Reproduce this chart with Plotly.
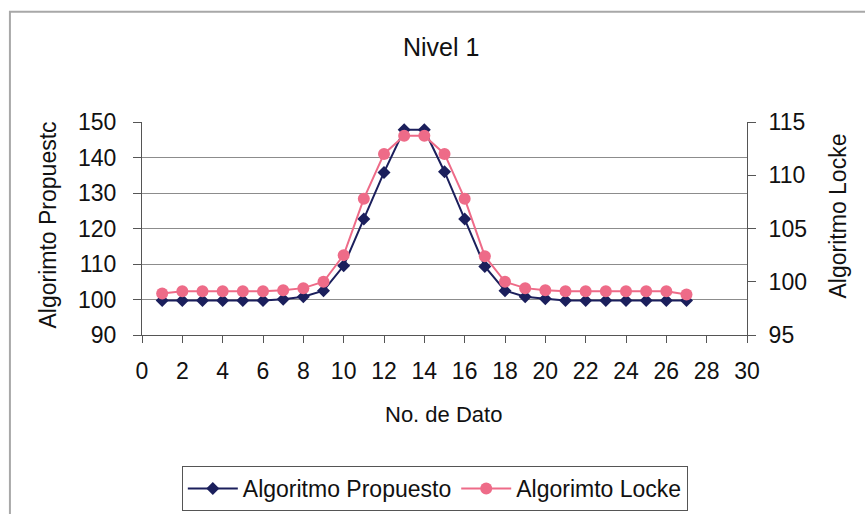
import plotly.graph_objects as go

# Data points (No. de Dato 1..27)
dato = list(range(1, 28))
propuesto = [99.7, 99.7, 99.7, 99.7, 99.7, 99.7, 100.1, 100.8, 102.5, 109.5,
             122.7, 135.8, 147.8, 147.8, 136.0, 122.7, 109.3, 102.5, 100.8, 100.2,
             99.7, 99.7, 99.7, 99.7, 99.7, 99.7, 99.7]
locke = [98.9, 99.1, 99.1, 99.1, 99.1, 99.1, 99.2, 99.4, 100.0, 102.5,
         107.8, 112.0, 113.7, 113.7, 112.0, 107.8, 102.4, 100.0, 99.4, 99.2,
         99.1, 99.1, 99.1, 99.1, 99.1, 99.1, 98.8]

x_ticks = list(range(0, 31, 2))
left_ticks = list(range(90, 151, 10))
right_ticks = list(range(95, 116, 5))

FONT = "Arial, 'Liberation Sans', sans-serif"
NAVY = "#1b1f5c"
PINK = "#ee6b88"
TICK_SIZE = 23

fig = go.Figure()
fig.add_trace(go.Scatter(
    x=dato, y=propuesto, name="Algoritmo Propuesto", mode="lines+markers",
    line=dict(color=NAVY, width=2),
    marker=dict(symbol="diamond", size=10, color=NAVY),
    yaxis="y"))
fig.add_trace(go.Scatter(
    x=dato, y=locke, name="Algorimto Locke", mode="lines+markers",
    line=dict(color=PINK, width=2),
    marker=dict(symbol="circle", size=12, color=PINK),
    yaxis="y2"))

fig.update_layout(
    width=865, height=514,
    margin=dict(l=142, r=118, t=122, b=179, autoexpand=False),
    paper_bgcolor="white", plot_bgcolor="white",
    font=dict(family=FONT, size=TICK_SIZE, color="#111111"),
    showlegend=True,
    xaxis=dict(range=[0, 30], tickvals=x_ticks, ticks="outside", ticklen=7,
               tickcolor="#555555", showline=True, linecolor="#555555",
               showgrid=False, zeroline=False, ticklabelstandoff=8,
               automargin=False, tickfont=dict(size=TICK_SIZE)),
    yaxis=dict(range=[90, 150], tickvals=left_ticks, ticks="outside", ticklen=8,
               tickcolor="#555555", showline=True, linecolor="#555555",
               showgrid=True, gridcolor="#8c8c8c", gridwidth=1, zeroline=False,
               ticklabelstandoff=12, automargin=False, tickfont=dict(size=TICK_SIZE)),
    yaxis2=dict(range=[95, 115], tickvals=right_ticks, overlaying="y", side="right",
                ticks="outside", ticklen=8, tickcolor="#555555", showline=True,
                linecolor="#555555", showgrid=False, zeroline=False,
                ticklabelstandoff=8, automargin=False, tickfont=dict(size=TICK_SIZE)),
    legend=dict(orientation="h", x=0.484, xanchor="center", y=-0.615, yanchor="top",
                bordercolor="#555555", borderwidth=1, font=dict(size=23),
                itemwidth=50, bgcolor="white"),
    shapes=[dict(type="rect", xref="paper", yref="paper",
                 x0=-0.2183, x1=1.35, y0=-0.845, y1=1.518,
                 line=dict(color="#a8a8a8", width=2), layer="below")],
    annotations=[
        dict(text="Nivel 1", xref="paper", yref="paper", x=0.494, y=1.35,
             xanchor="center", yanchor="middle", showarrow=False,
             font=dict(size=25)),
        dict(text="No. de Dato", xref="paper", yref="paper", x=0.498, y=-0.373,
             xanchor="center", yanchor="middle", showarrow=False,
             font=dict(size=22)),
        dict(text="Algorimto Propuestc", xref="paper", yref="paper", x=-0.155, y=0.515,
             xanchor="center", yanchor="middle", textangle=-90, showarrow=False,
             font=dict(size=23)),
        dict(text="Algoritmo Locke", xref="paper", yref="paper", x=1.15, y=0.56,
             xanchor="center", yanchor="middle", textangle=-90, showarrow=False,
             font=dict(size=23)),
    ],
)

fig.write_html("out.html")
